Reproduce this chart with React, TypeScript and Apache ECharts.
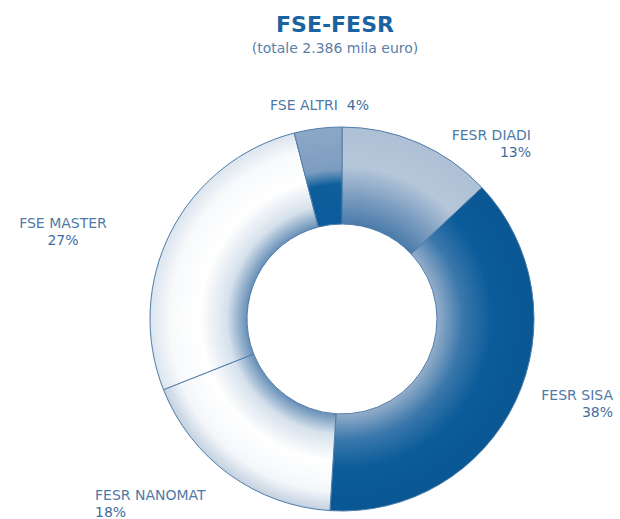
import React, { useEffect, useRef } from "react";
import * as echarts from "echarts";

const categories = ["FESR DIADI", "FESR SISA", "FESR NANOMAT", "FSE MASTER", "FSE ALTRI"];
const values = [13, 38, 18, 27, 4];
const titleText = "FSE-FESR";
const subtitleText = "(totale 2.386 mila euro)";

// label anchor: [x, top y, align]
const labelPos: [number, number, string][] = [
  [531, 126, "right"],
  [613, 386, "right"],
  [95, 486, "left"],
  [63, 214, "center"],
  [270, 96, "left"],
];

const CX = 342, CY = 319, R_IN = 95, R_OUT = 192;
const f = R_IN / R_OUT;
const FONT = "DejaVu Sans, Liberation Sans, Arial, sans-serif";

function grad(stops: [number, string][]) {
  return new echarts.graphic.RadialGradient(
    CX, CY, R_OUT,
    stops.map(([o, c]) => ({ offset: o, color: c })),
    true
  );
}

const fills = [
  grad([[0, "#4a7bab"], [f, "#4a7bab"], [0.64, "#7c9dc0"], [0.8, "#b6c7da"], [1, "#aec0d5"]]),
  grad([[0, "#93adc9"], [f, "#93adc9"], [0.63, "#3a77ab"], [0.78, "#0b5c9a"], [1, "#095793"]]),
  grad([[0, "#6890b8"], [f, "#6890b8"], [0.6, "#d6e1ec"], [0.74, "#ffffff"], [0.9, "#f4f7fa"], [1, "#c3d1e0"]]),
  grad([[0, "#6890b8"], [f, "#6890b8"], [0.6, "#d6e1ec"], [0.74, "#ffffff"], [0.9, "#f7f9fb"], [1, "#dbe4ee"]]),
  grad([[0, "#0b5c9a"], [f, "#0b5c9a"], [0.7, "#0d5e9b"], [0.78, "#7d9dc0"], [1, "#8ca8c6"]]),
];

export default function App() {
  const ref = useRef<HTMLDivElement>(null);
  useEffect(() => {
    if (!ref.current) return;
    const chart = echarts.init(ref.current, null, { renderer: "svg" });
    chart.setOption({
      animation: false,
      backgroundColor: "#ffffff",
      title: {
        text: titleText,
        subtext: subtitleText,
        left: 335,
        textAlign: "center",
        top: 12,
        itemGap: 2,
        padding: 0,
        textStyle: {
          fontFamily: FONT,
          fontSize: 22,
          lineHeight: 25,
          fontWeight: "bold",
          color: "#1a63a0",
        },
        subtextStyle: {
          fontFamily: FONT,
          fontSize: 14,
          lineHeight: 17,
          color: "#5b80a8",
        },
      },
      series: [
        {
          type: "pie",
          center: [CX, CY],
          radius: [R_IN, R_OUT],
          startAngle: 90,
          clockwise: true,
          avoidLabelOverlap: false,
          labelLine: { show: false },
          itemStyle: { borderColor: "#4f7ca9", borderWidth: 1 },
          emphasis: { disabled: true },
          label: {
            show: true,
            position: "outside",
            fontFamily: FONT,
            formatter: (p: any) =>
              p.dataIndex === 4
                ? `{n|${p.name}  }{p|${p.value}%}`
                : `{n|${p.name}}\n{p|${p.value}%}`,
            rich: {
              n: {
                fontFamily: FONT,
                fontSize: 14,
                color: "#4f79a6",
                lineHeight: 17,
              },
              p: {
                fontFamily: FONT,
                fontSize: 14,
                color: "#3f6e9e",
                lineHeight: 17,
              },
            },
          },
          labelLayout: (params: any) => {
            const lp = labelPos[params.dataIndex];
            return { x: lp[0], y: lp[1], align: lp[2], verticalAlign: "top" };
          },
          data: categories.map((c, i) => ({
            name: c,
            value: values[i],
            itemStyle: { color: fills[i] },
            label: { align: labelPos[i][2] },
          })),
        },
      ],
    });
    return () => chart.dispose();
  }, []);
  return (
    <div
      ref={ref}
      style={{ position: "absolute", left: 0, top: 0, width: 620, height: 519 }}
    />
  );
}
